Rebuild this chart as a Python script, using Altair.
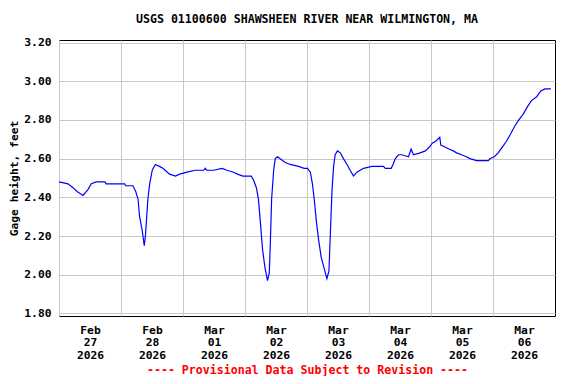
import altair as alt
import pandas as pd

TITLE = "USGS 01100600 SHAWSHEEN RIVER NEAR WILMINGTON, MA"
Y_TITLE = "Gage height, feet"
FOOTER = "---- Provisional Data Subject to Revision ----"

# hours since 2026-02-27 00:00 (UTC) and gage height (ft)
hours = [0, 3.5, 5.4, 7, 9.3, 11.2, 12.5, 14.4, 17.8, 18.2, 25.4, 25.8, 28.6, 29.7,
         30.6, 31.2, 32.2, 33, 33.5, 34.4, 35.1, 36.1, 37.3, 38.9, 40.2, 42.8, 45.1,
         46.7, 49.5, 52.7, 56.0, 56.6, 57.2, 59.8, 63.1, 65, 67.6, 69.1, 71.2, 74.4,
         75.3, 76.4, 77.2, 77.9, 78.8, 79.7, 80.7, 81.4, 81.8, 82.3, 83.1, 83.7, 84.6,
         85.6, 87.6, 89.5, 92.7, 94.9, 96.2, 97.3, 98.1, 98.8, 99.6, 100.5, 101.5,
         102.7, 103.7, 104.5, 105, 105.7, 106.3, 106.9, 107.8, 108.9, 110.1, 111.5,
         112.7, 114, 115.3, 116.6, 117.9, 121.1, 125.6, 126.3, 128.6, 129.3, 130.2,
         131.4, 132.7, 135.3, 136.3, 137.2, 139.8, 141.8, 143.4, 144.5, 145.8, 147.4,
         147.8, 149.4, 150.9, 152.6, 153.9, 155.8, 157.7, 159.1, 161.6, 166.2, 166.8,
         168.5, 170, 171.6, 173.2, 174.9, 176.5, 178, 179.7, 181.4, 182.9, 184.9,
         186.5, 188.1, 190.4]
gage = [2.48, 2.47, 2.45, 2.43, 2.41, 2.44, 2.47, 2.48, 2.48, 2.47, 2.47, 2.46, 2.46, 2.43,
        2.39, 2.30, 2.23, 2.15, 2.21, 2.39, 2.47, 2.54, 2.57, 2.56, 2.55, 2.52, 2.51,
        2.52, 2.53, 2.54, 2.54, 2.55, 2.54, 2.54, 2.55, 2.54, 2.53, 2.52, 2.51, 2.51,
        2.49, 2.45, 2.39, 2.28, 2.13, 2.04, 1.97, 2.01, 2.16, 2.39, 2.54, 2.60, 2.61,
        2.60, 2.58, 2.57, 2.56, 2.55, 2.55, 2.53, 2.47, 2.39, 2.28, 2.18, 2.09,
        2.03, 1.98, 2.02, 2.20, 2.44, 2.56, 2.62, 2.64, 2.63, 2.60, 2.57,
        2.54, 2.51, 2.53, 2.54, 2.55, 2.56, 2.56, 2.55, 2.55, 2.57, 2.60,
        2.62, 2.62, 2.61, 2.65, 2.62, 2.63, 2.64, 2.66, 2.68, 2.69, 2.71,
        2.67, 2.66, 2.65, 2.64, 2.63, 2.62, 2.61, 2.60, 2.59, 2.59, 2.60,
        2.61, 2.63, 2.66, 2.69, 2.73, 2.77, 2.80, 2.83, 2.87, 2.90, 2.92,
        2.95, 2.96, 2.96]

y_ticks = [1.8, 2.0, 2.2, 2.4, 2.6, 2.8, 3.0, 3.2]
day_ticks = [(2, 27), (2, 28), (3, 1), (3, 2), (3, 3), (3, 4), (3, 5), (3, 6)]

start = pd.Timestamp("2026-02-27T00:00:00")
times = [(start + pd.Timedelta(hours=h)).strftime("%Y-%m-%dT%H:%M:%SZ") for h in hours]
df = pd.DataFrame({"time": times, "gage": gage})

FONT = "DejaVu Sans Mono"

x_axis = alt.Axis(
    values=[alt.DateTime(year=2026, month=m, date=d, utc=True) for m, d in day_ticks],
    labelExpr="[utcFormat(datum.value, '%b'), utcFormat(datum.value, '%d'), utcFormat(datum.value, '%Y')]",
    labelOffset=31, labelFlush=False, labelOverlap=False, labelBound=False,
    labelFont=FONT, labelFontWeight="bold", labelFontSize=11.3, labelColor="black",
    labelLineHeight=12.8, labelPadding=8, labelBaseline="top",
    ticks=False, tickSize=0, domain=False,
    grid=True, gridColor="#c8c8c8", gridWidth=1,
    title=FOOTER, titleColor="#ff0000", titleFont=FONT, titleFontWeight="bold",
    titleFontSize=11.6, titlePadding=4,
)
y_axis = alt.Axis(
    values=y_ticks, format=".2f",
    labelFont=FONT, labelFontWeight="bold", labelFontSize=11.3, labelColor="black",
    labelPadding=8, ticks=False, tickSize=0, domain=False,
    grid=True, gridColor="#c8c8c8", gridWidth=1,
    title=Y_TITLE, titleFont=FONT, titleFontWeight="bold", titleFontSize=11.3,
    titleColor="black", titlePadding=4,
)

chart = alt.Chart(df).mark_line(color="#0000ff", strokeWidth=1.2, interpolate="linear").encode(
    x=alt.X("time:T", axis=x_axis,
            scale=alt.Scale(type="utc", domain=[alt.DateTime(year=2026, month=2, date=27, utc=True),
                                                alt.DateTime(year=2026, month=3, date=7, utc=True)])),
    y=alt.Y("gage:Q", axis=y_axis, scale=alt.Scale(domain=[1.787, 3.213], nice=False, zero=False)),
).properties(
    width=496, height=276,
    title=alt.TitleParams(TITLE, font=FONT, fontWeight="bold", fontSize=11.6, color="black",
                          offset=11, anchor="middle"),
    autosize=alt.AutoSizeParams(type="none"),
    padding={"left": 51, "top": 32, "right": 13, "bottom": 60},
    background="white",
).configure_view(stroke="black", strokeWidth=1)

chart.save("out.html", embed_options={"renderer": "svg", "actions": False})
